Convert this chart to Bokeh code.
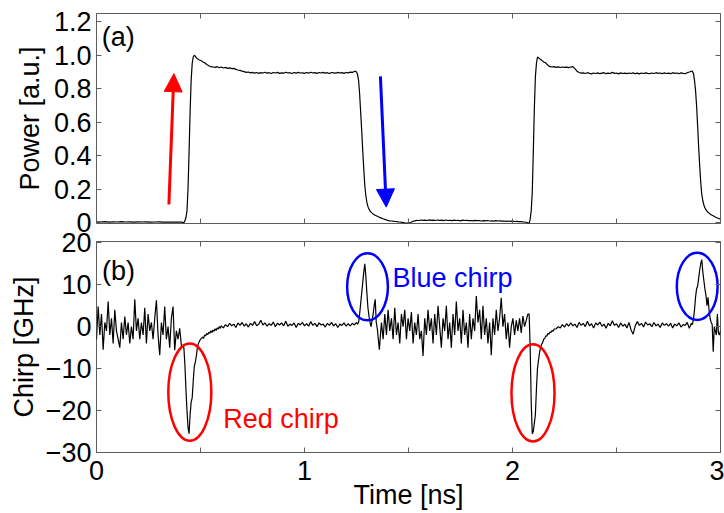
import numpy as np
from bokeh.plotting import figure
from bokeh.layouts import column
from bokeh.models import Range1d, FixedTicker, LinearAxis, CustomJSTickFormatter, Arrow, NormalHead
from bokeh.embed import file_html
from bokeh.resources import INLINE
from bokeh.core.properties import value

# ---------------- data ----------------
# Power trace, segments: (t_start [ns], t_end [ns], values [a.u.])
power_low1 = [0.004, 0.003, 0.005, 0.002, 0.004, 0.003, 0.005, 0.003, 0.004, 0.002, 0.004,
              0.003, 0.004, 0.002, 0.003, 0.004, 0.002, 0.003, 0.002, 0.003, 0.002]
power_rise1 = [0.002, 0.0, -0.002, 0.01, 0.03, 0.07, 0.2, 0.42, 0.66, 0.85, 0.95, 0.99,
               1.0, 0.995, 0.985, 0.98, 0.975, 0.972, 0.97]
power_high1 = [0.962, 0.955, 0.945, 0.938, 0.932, 0.93, 0.928, 0.932, 0.926, 0.93, 0.924, 0.928,
               0.922, 0.925, 0.92, 0.922, 0.916, 0.912, 0.91, 0.905, 0.902, 0.898, 0.9, 0.895,
               0.898, 0.893, 0.897, 0.892, 0.896, 0.894, 0.899, 0.893, 0.896, 0.891, 0.897, 0.894,
               0.898, 0.892, 0.895, 0.893, 0.899, 0.894, 0.896, 0.891, 0.897, 0.893, 0.898, 0.894,
               0.895, 0.892, 0.897, 0.893, 0.899, 0.894, 0.896, 0.892, 0.897, 0.894, 0.898, 0.893,
               0.896, 0.891, 0.897, 0.895, 0.893, 0.898, 0.894, 0.896, 0.892, 0.897, 0.895, 0.899,
               0.898, 0.903]
power_fall1 = [0.905, 0.9, 0.885, 0.85, 0.77, 0.66, 0.55, 0.43, 0.32, 0.22, 0.16, 0.12, 0.095,
               0.08, 0.07, 0.062, 0.056, 0.051, 0.047, 0.043, 0.04, 0.037, 0.034, 0.031, 0.029,
               0.026, 0.024, 0.021, 0.019, 0.017, 0.015, 0.013]
power_low2 = [0.01, 0.009, 0.007, 0.006, 0.004, 0.003, 0.001, -0.002, -0.004, -0.003, 0.0, 0.006,
              0.01, 0.013, 0.012, 0.015, 0.013, 0.014, 0.012, 0.016, 0.013, 0.014, 0.012, 0.015,
              0.013, 0.014, 0.011, 0.015, 0.012, 0.013, 0.011, 0.014, 0.012, 0.013, 0.01, 0.014,
              0.012, 0.013, 0.011, 0.012, 0.01, 0.013, 0.011, 0.012, 0.009, 0.011, 0.01, 0.012,
              0.009, 0.01, 0.008, 0.011, 0.009, 0.01, 0.008, 0.009, 0.007, 0.009, 0.007, 0.008,
              0.006, 0.007, 0.005, 0.006, 0.004, 0.003, 0.0]
power_rise2 = [-0.004, -0.005, 0.02, 0.07, 0.18, 0.42, 0.68, 0.87, 0.95, 0.99, 0.985, 0.98,
               0.975, 0.97, 0.965, 0.96]
power_high2 = [0.955, 0.94, 0.932, 0.93, 0.932, 0.928, 0.931, 0.927, 0.93, 0.928, 0.929, 0.926,
               0.93, 0.932, 0.92, 0.905, 0.897, 0.893, 0.895, 0.891, 0.896, 0.892, 0.889, 0.894,
               0.891, 0.895, 0.89, 0.893, 0.896, 0.89, 0.893, 0.891, 0.898, 0.892, 0.894, 0.889,
               0.895, 0.891, 0.893, 0.89, 0.894, 0.891, 0.895, 0.89, 0.893, 0.889, 0.894, 0.891,
               0.895, 0.892, 0.89, 0.894, 0.891, 0.896, 0.892, 0.894, 0.89, 0.895, 0.891, 0.893,
               0.89, 0.896, 0.892, 0.894, 0.89, 0.895, 0.892, 0.89, 0.896, 0.9, 0.905]
power_fall2 = [0.905, 0.89, 0.85, 0.79, 0.7, 0.58, 0.45, 0.34, 0.24, 0.17, 0.13, 0.105, 0.088,
               0.077, 0.068, 0.061, 0.056, 0.051, 0.047, 0.043, 0.04, 0.036, 0.033, 0.03, 0.027,
               0.025, 0.022, 0.02]

power_segments = [
    (0.0, 0.40, power_low1),
    (0.41, 0.50, power_rise1),
    (0.51, 1.24, power_high1),
    (1.245, 1.40, power_fall1),
    (1.41, 2.07, power_low2),
    (2.075, 2.15, power_rise2),
    (2.16, 2.86, power_high2),
    (2.865, 3.0, power_fall2),
]

# Chirp trace [GHz], segments: (t_start, t_end, values)
chirp_noisy1 = [-3, 4.8, -2, 3, -5.5, 1, -1, 6, -2, 2, -4, 4, -1, -3, -5, 1, -3, 2.4, -2, 1,
                -4, 0, -3, 6.5, -1, 2, -3, 1, -2, 4.5, -4, 3, -1, 1, -3, 2, 6.3, -2, -6.8, 1,
                -2, 4.8, -3, 0, -5, 2, 4.8, -5.6, -1, -3, -0.4, -4.5]
chirp_red1 = [-5, -9, -15, -20, -24, -25.5, -21, -18, -17, -13, -9.5, -8.5, -7, -5, -4, -3.5, -3,
              -2.8, -2.5, -2.8, -2, -2.2, -1.6, -1.9, -1.3, -1.6, -1, -1.4, -0.8, -1.1, -0.5, -0.9,
              -0.3, -0.6, 0, -0.4]
chirp_quiet1 = [0.2, -0.3, 0.5, 0, 0.8, 0.2, 0.6, -0.2, 0.9, 0.3, 1.0, 0.1, 0.7, -0.1, 0.8, 0.3, 1.2,
                0.2, 0.6, 1.5, 0.4, 0.9, 0.1, 0.7, 0.3, 1.1, 0, 0.8, 0.4, 0.9, 0.2, 1.3, 0.1, 0.6, 0.3,
                0.9, -0.2, 0.8, 0.4, 1.0, 0.2, 0.7, 0.1, 1.2, 0.3, 0.8, 0, 0.9, 0.4, 0.6, -0.1, 0.8,
                0.3, 1.0, 0.2, 0.7, -0.2, 0.6, 0.3, 0.9, 0.1, 0.7, 0.2, 0.8, 0.4, 1.0]
chirp_blue1 = [0.6, 1.0, 3, 5.5, 8, 10.5, 13, 15, 12, 8, 4.5, 2.5, 1, 0, 1.5, 3, 5, 6.5, 1, -0.5,
               -3, -5.5, -2]
chirp_noisy2 = [1, -3, 3, -2, 4, -1, 2, -3, 4.5, -2, 1, -4, 3, 0, 4, -3, 2, -1, 3.5, -4,
                1, -2, 3, -3, -1, -7, 2, -2, 4, -1, 2, -4, 3, -2, 5, 0, -5, 2, -1, 5,
                -3, 1, -5, 3, -2, 6, -1, 2, -4, 4, -2, 1, -5, 3, -3, 2, -1, 7.3, 1, 4,
                -3, 5, -2, 2, -4, 1, -6.8, 2, -2, 4, -1, 2, 6.9, 0, 3, -3, 1, -5, 0, 2,
                -2, 1.5, -1, 2, -1.5, 2.5, 0, 1.5, 3]
chirp_red2 = [3, -5, -18, -25.5, -25, -23, -21, -15, -10, -8, -6.2, -5, -4.2, -3.8, -3, -2.8, -2.2,
              -2.3, -1.6, -1.8, -1.3, -1.4, -0.9, -1.1, -0.6]
chirp_quiet2 = [-0.5, 0, -0.3, 0.5, -0.1, 0.7, 0.1, 0.9, 0.2, 0.6, -0.2, 1.0, 0.3, 0.8, 0, 1.3, 0.2,
                0.7, -0.3, 0.9, 0.4, 1.1, 0.1, 0.6, -0.4, 0.8, 0.2, 1.4, 0.3, 0.7, -0.2, 0.9, 0.1,
                0.6, -0.3, 1.0, -0.8, -1.8, 0.2, 1.2, 0.3, 0.8, -0.1, 1.1, 0.4, 0.7, 0, 1.0, 0.2,
                0.6, -0.2, 0.9, 0.3, 0.7, 0.1, 0.8, -0.3, 0.6, 0.2, 0.9, -0.1, 0.5, 0.3, 1.0, -0.4,
                0.8]
chirp_blue2 = [0.5, 1.8, 4, 7, 9, 9.7, 11.5, 13.5, 15, 16, 13, 11, 9, 7.5, 5, 7, 4, 2, 1, 0.5, -6,
               0, -1, -2, 3, -1.5, -2, -1]

chirp_segments = [
    (0.0, 0.408, chirp_noisy1),
    (0.42, 0.595, chirp_red1),
    (0.60, 1.25, chirp_quiet1),
    (1.255, 1.365, chirp_blue1),
    (1.37, 2.074, chirp_noisy2),
    (2.08, 2.20, chirp_red2),
    (2.21, 2.86, chirp_quiet2),
    (2.865, 3.0, chirp_blue2),
]

time_ticks = [0, 1, 2, 3]
time_minor_ticks = [0.5, 1.5, 2.5]
time_all_ticks = [0, 0.5, 1, 1.5, 2, 2.5, 3]
power_ticks = [0, 0.2, 0.4, 0.6, 0.8, 1.0, 1.2]
power_tick_labels = ["0", "0.2", "0.4", "0.6", "0.8", "1.0", "1.2"]
chirp_ticks = [-30, -20, -10, 0, 10, 20]

# annotations (data coordinates)
red_ellipse_t = [0.4486, 2.0986]
red_ellipse_y = [-15.6, -15.8]
blue_ellipse_t = [1.303, 2.888]
blue_ellipse_y = [9.5, 9.6]

# ---------------- helpers ----------------
FONT = "Liberation Sans"
FS = "27px"
FRAME = "#5c5c5c"


def build(segs):
    ts, vs = [], []
    for t0, t1, vals in segs:
        ts.append(np.linspace(t0, t1, len(vals)))
        vs.append(np.asarray(vals, dtype=float))
    return np.concatenate(ts), np.concatenate(vs)


def style_axis(ax, ticks, minor=None, labels=True):
    ax.ticker = FixedTicker(ticks=ticks, minor_ticks=minor or [])
    ax.axis_line_color = None
    ax.major_tick_in = 5
    ax.major_tick_out = 0
    ax.minor_tick_in = 5
    ax.minor_tick_out = 0
    ax.major_tick_line_color = FRAME
    ax.minor_tick_line_color = FRAME
    ax.axis_label_text_font = FONT
    ax.axis_label_text_font_size = FS
    ax.axis_label_text_font_style = "normal"
    ax.axis_label_text_color = "black"
    if labels:
        ax.major_label_text_font = FONT
        ax.major_label_text_font_size = FS
        ax.major_label_text_color = "black"
        ax.major_label_standoff = 5
    else:
        ax.major_label_text_font_size = "0px"
        ax.major_label_standoff = 0
        ax.formatter = CustomJSTickFormatter(code="return '';")


def base_fig(y_range, fh, top, bottom):
    p = figure(x_range=Range1d(0, 3), y_range=y_range, frame_width=624, frame_height=fh,
               min_border_left=96, min_border_right=4, min_border_top=top, min_border_bottom=bottom,
               output_backend="svg", toolbar_location=None)
    p.outline_line_color = FRAME
    p.outline_line_width = 1
    p.xgrid.visible = False
    p.ygrid.visible = False
    p.background_fill_color = "white"
    p.border_fill_color = "white"
    return p


# ---------------- top panel: power ----------------
pt, pv = build(power_segments)
p1 = base_fig(Range1d(-0.006, 1.25), 210, 13, 16)
p1.line(pt, pv, line_color="black", line_width=1.2)
style_axis(p1.xaxis[0], time_all_ticks, labels=False)
style_axis(p1.yaxis[0], power_ticks)
p1.yaxis[0].formatter = CustomJSTickFormatter(
    args=dict(tvals=power_ticks, tlabels=power_tick_labels),
    code="for (let i = 0; i < tvals.length; i++) { if (Math.abs(tvals[i] - tick) < 1e-6) return tlabels[i]; } return '';")
p1.yaxis[0].axis_label = "Power [a.u.]"
p1.yaxis[0].axis_label_standoff = 6
ax_top = LinearAxis()
style_axis(ax_top, time_all_ticks, labels=False)
p1.add_layout(ax_top, "above")
ax_right = LinearAxis()
style_axis(ax_right, power_ticks, labels=False)
p1.add_layout(ax_right, "right")

p1.text(x=[0.025], y=[1.11], text=["(a)"], text_font=value(FONT), text_font_size=value(FS),
        text_color="black", text_baseline="alphabetic", text_align="left")
p1.add_layout(Arrow(end=NormalHead(size=18, fill_color="red", line_color="red", line_width=1),
                    x_start=0.348, y_start=0.108, x_end=0.372, y_end=0.89,
                    line_color="red", line_width=3))
p1.add_layout(Arrow(end=NormalHead(size=18, fill_color="blue", line_color="blue", line_width=1),
                    x_start=1.365, y_start=0.874, x_end=1.393, y_end=0.092,
                    line_color="blue", line_width=3))

# ---------------- bottom panel: chirp ----------------
ct, cv = build(chirp_segments)
p2 = base_fig(Range1d(-30, 20.3), 211, 16, 5)
p2.margin = (-14, 0, 0, 0)
p2.border_fill_color = None
p2.line(ct, cv, line_color="black", line_width=1.2)
style_axis(p2.xaxis[0], time_ticks, minor=time_minor_ticks)
p2.xaxis[0].major_label_standoff = 8
p2.xaxis[0].axis_label = "Time [ns]"
p2.xaxis[0].axis_label_standoff = -3
style_axis(p2.yaxis[0], chirp_ticks)
p2.yaxis[0].axis_label = "Chirp [GHz]"
p2.yaxis[0].axis_label_standoff = 4
ax_top2 = LinearAxis()
style_axis(ax_top2, time_ticks, minor=time_minor_ticks, labels=False)
p2.add_layout(ax_top2, "above")
ax_right2 = LinearAxis()
style_axis(ax_right2, chirp_ticks, labels=False)
p2.add_layout(ax_right2, "right")

p2.ellipse(x=red_ellipse_t, y=red_ellipse_y, width=0.207, height=23.2,
           fill_color=None, line_color="red", line_width=2.5)
p2.ellipse(x=blue_ellipse_t, y=blue_ellipse_y, width=0.196, height=16,
           fill_color=None, line_color="blue", line_width=2.5)
p2.text(x=[0.027], y=[13.3], text=["(b)"], text_font=value(FONT), text_font_size=value(FS),
        text_color="black", text_baseline="alphabetic", text_align="left")
p2.text(x=[0.609], y=[-22.0], text=["Red chirp"], text_font=value(FONT), text_font_size=value(FS),
        text_color="red", text_baseline="alphabetic", text_align="left")
p2.text(x=[1.423], y=[11.7], text=["Blue chirp"], text_font=value(FONT), text_font_size=value(FS),
        text_color="blue", text_baseline="alphabetic", text_align="left")

layout = column(p1, p2, spacing=0)
open("out.html", "w").write(file_html(layout, INLINE))
